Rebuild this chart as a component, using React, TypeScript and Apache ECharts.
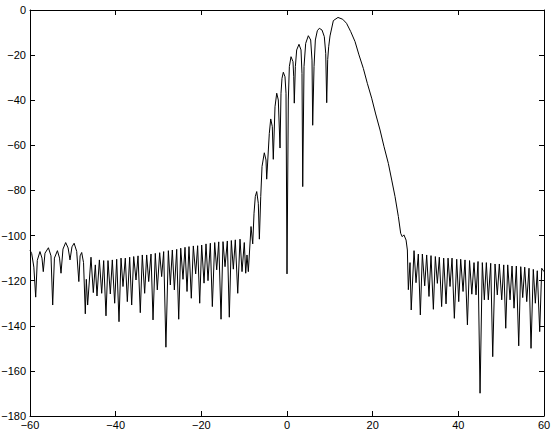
import React, { useEffect, useRef } from "react";
import * as echarts from "echarts";

// Axis ranges / ticks
const xTicks = [-60, -40, -20, 0, 20, 40, 60];
const yTicks = [-180, -160, -140, -120, -100, -80, -60, -40, -20, 0];

// [x, dB] points
const farLeftLobes: [number, number][] = [
  [-60, -106.5], [-59.6, -108], [-59.1, -114], [-58.67, -127.3], [-58.3, -111],
  [-57.67, -107.1], [-57.2, -110], [-56.9, -116], [-56.5, -107.8], [-55.7, -105.4],
  [-55.1, -109], [-54.7, -130.8], [-54.3, -110], [-53.6, -106.7], [-53.1, -110],
  [-52.76, -116.7], [-52.3, -106], [-51.67, -103.1], [-51.1, -105.5], [-50.66, -110.8],
  [-50.2, -105], [-49.7, -103.4], [-49.1, -107], [-48.6, -120.4], [-48.3, -109],
  [-47.93, -107.5], [-47.5, -112], [-47.09, -134.7], [-46.85, -119.4], [-46.54, -130.8],
];

const leftSidelobes: [number, number][] = [
  [-45.76, -109.6], [-45.22, -125.3], [-44.75, -113], [-44.36, -126.8], [-43.8, -110.8],
  [-43.26, -125.6], [-42.8, -111.1], [-42.26, -135.6], [-41.79, -111.1], [-41.25, -125.9],
  [-40.78, -110.8], [-40.23, -130], [-39.76, -110.5], [-39.22, -138.2], [-38.75, -110],
  [-38.29, -122.6], [-37.75, -110], [-37.28, -129.3], [-36.73, -109.6], [-36.26, -130.8],
  [-35.79, -109.3], [-35.25, -119.7], [-34.78, -109], [-34.25, -134.2], [-33.78, -108.6],
  [-33.23, -125.6], [-32.76, -108.6], [-32.29, -120.4], [-31.75, -108.2], [-31.28, -137.4],
  [-30.75, -107.9], [-30.28, -124.1], [-29.73, -107.6], [-29.26, -118.2], [-28.79, -107.1],
  [-28.27, -149.5], [-27.7, -106.7], [-27.24, -121.9], [-26.77, -106.4], [-26.3, -124.1],
  [-25.75, -106.1], [-25.28, -137.1], [-24.81, -105.6], [-24.28, -119.4], [-23.81, -105.2],
  [-23.34, -124.8], [-22.88, -104.9], [-22.34, -127.8], [-21.87, -104.6], [-21.32, -117],
  [-20.86, -104.5], [-20.38, -130], [-19.92, -104.2], [-19.37, -121.1], [-18.91, -103.7],
  [-18.44, -120], [-17.9, -103.4], [-17.43, -131.5], [-16.88, -103.1], [-16.41, -115.2],
  [-15.94, -102.8], [-15.4, -137.1], [-14.94, -102.7], [-14.47, -113.8], [-13.93, -102.4],
  [-13.47, -136.2], [-13.0, -102.2], [-12.53, -114.9], [-12.07, -101.9], [-11.5, -125.6],
  [-10.97, -101.6], [-10.5, -116], [-9.97, -103.1], [-9.64, -116.7], [-9.34, -108.6],
  [-9.03, -116],
];

const centerLobes: [number, number][] = [
  [-8.4, -96], [-8.0, -103.7], [-7.7, -90.1], [-7.4, -82.7], [-7.07, -80.5],
  [-6.7, -85.7], [-6.45, -101.6], [-6.13, -82.7], [-5.83, -69.4], [-5.3, -63.3],
  [-4.9, -66.5], [-4.74, -75], [-4.13, -54.7], [-3.8, -48.3], [-3.43, -51.7],
  [-3.2, -66.2], [-2.8, -42.9], [-2.4, -36.9], [-2.03, -39.9], [-1.63, -61.2],
  [-1.4, -36.9], [-1.17, -30.3], [-0.86, -27.6], [-0.47, -29.6], [-0.23, -36.9],
  [0, -117], [0.31, -39.9], [0.55, -25.1], [0.94, -20.7], [1.4, -22.9],
  [1.57, -29.6], [1.7, -41.3], [1.95, -25.1], [2.26, -17.7], [2.8, -15.2],
  [3.27, -17.7], [3.5, -28.1], [3.67, -78.3], [3.97, -25.1], [4.36, -14.8],
  [4.98, -11.4], [5.53, -13.3], [5.84, -22.2], [6.0, -51.1], [6.31, -25.1],
  [6.62, -13.3], [7.08, -9.2], [7.55, -8.1], [8.18, -8.9], [8.71, -11.8],
  [9.04, -19.2], [9.27, -41.1],
];

const mainLobe: [number, number][] = [
  [9.5, -22], [9.73, -16.3], [10.04, -11.5], [10.82, -4.7], [11.9, -3.3],
  [13.0, -4.1], [13.9, -5.9], [14.88, -9.6], [15.88, -14], [16.8, -19.9],
  [17.82, -25.9], [18.75, -32.5], [19.77, -39.1], [20.7, -46.1], [21.72, -53.2],
  [22.65, -60.6], [23.66, -68], [24.45, -75.4], [25.22, -82.7], [26, -91.6],
  [26.54, -99], [26.9, -100.5], [27.3, -99.7], [27.8, -102], [28.1, -106.4],
];

const rightSidelobes: [number, number][] = [
  [28.33, -124], [28.72, -112], [29.0, -133], [29.66, -106.7], [30.12, -120.9],
  [30.66, -108.2], [31.13, -135.2], [31.6, -108.2], [32.15, -122.3], [32.61, -108.6],
  [33.15, -127], [33.62, -108.9], [34.17, -132.7], [34.63, -109.3], [35.1, -121.2],
  [35.56, -109.6], [36.1, -131.5], [36.58, -110], [37.13, -130.3], [37.6, -110],
  [38.06, -122.6], [38.53, -110], [39.07, -136.7], [39.62, -110.5], [40.09, -129.3],
  [40.55, -110.5], [41.1, -124.8], [41.56, -110.8], [42.12, -139.6], [42.62, -111.1],
  [43.15, -126], [43.66, -112], [44.13, -126.3], [44.6, -111.5], [45.07, -169.9],
  [45.6, -112], [46.07, -128.5], [46.54, -112], [47.0, -128.5], [47.56, -112.3],
  [48.03, -153.7], [48.57, -112.6], [49.1, -126.3], [49.57, -112.6], [50.13, -128.5],
  [50.6, -113], [51.07, -141.1], [51.53, -113], [52.07, -128.5], [52.54, -113.5],
  [53.0, -132.2], [53.54, -113.5], [54.1, -148.9], [54.57, -113.8], [55.03, -127.5],
  [55.5, -114], [55.97, -129.3], [56.5, -114.5], [56.97, -150], [57.5, -115],
  [57.98, -130], [58.43, -115.6], [59.0, -142.6], [59.47, -114.5], [60, -116],
];

const minus = (v: number) => (v < 0 ? "\u2212" + Math.abs(v) : String(v));

export default function App() {
  const ref = useRef<HTMLDivElement>(null);
  useEffect(() => {
    document.body.style.margin = "0";
    if (!ref.current) return;
    const chart = echarts.init(ref.current, undefined, { renderer: "svg" });
    const font = { fontFamily: "Liberation Sans", fontSize: 11, color: "#000" };
    const line = { show: true, onZero: false, lineStyle: { color: "#000", width: 1 } };
    const tick = { show: true, inside: true, length: 5, lineStyle: { color: "#000", width: 1 } };
    const data = [
      ...farLeftLobes,
      ...leftSidelobes,
      ...centerLobes,
      ...mainLobe,
      ...rightSidelobes,
    ];
    chart.setOption({
      animation: false,
      backgroundColor: "#fff",
      grid: { left: 30, right: 10, top: 10, bottom: 17, containLabel: false, outerBoundsMode: "none" },
      xAxis: [
        {
          type: "value", position: "bottom",
          min: xTicks[0], max: xTicks[xTicks.length - 1], interval: 20,
          axisLine: line, axisTick: tick, splitLine: { show: false },
          axisLabel: { ...font, margin: 3, formatter: minus, showMinLabel: true, showMaxLabel: true },
        },
        {
          type: "value", position: "top",
          min: xTicks[0], max: xTicks[xTicks.length - 1], interval: 20,
          axisLine: line, axisTick: tick, splitLine: { show: false },
          axisLabel: { show: false },
        },
      ],
      yAxis: [
        {
          type: "value", position: "left",
          min: yTicks[0], max: yTicks[yTicks.length - 1], interval: 20,
          axisLine: line, axisTick: tick, splitLine: { show: false },
          axisLabel: { ...font, margin: 4, formatter: minus, showMinLabel: true, showMaxLabel: true },
        },
        {
          type: "value", position: "right",
          min: yTicks[0], max: yTicks[yTicks.length - 1], interval: 20,
          axisLine: line, axisTick: tick, splitLine: { show: false },
          axisLabel: { show: false },
        },
      ],
      series: [
        {
          type: "line",
          xAxisIndex: 0,
          yAxisIndex: 0,
          data,
          showSymbol: false,
          symbol: "none",
          clip: true,
          silent: true,
          lineStyle: { color: "#000", width: 1 },
        },
      ],
    });
    return () => chart.dispose();
  }, []);
  return <div ref={ref} style={{ width: 554, height: 433 }} />;
}
